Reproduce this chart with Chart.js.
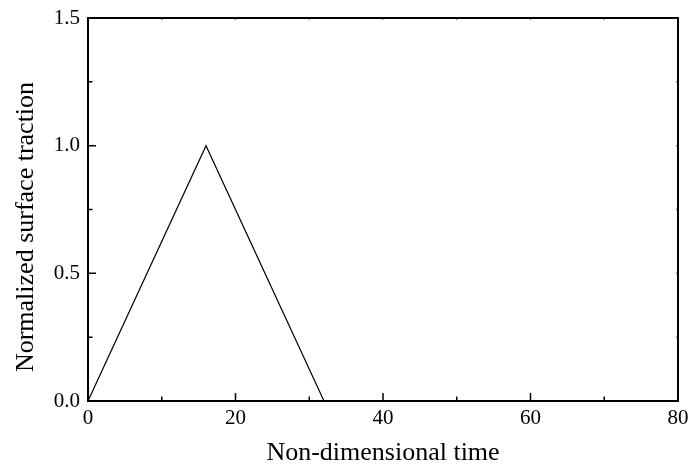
<!DOCTYPE html>
<html>
<head>
<meta charset="utf-8">
<script src="https://cdn.jsdelivr.net/npm/chart.js@4.4.0/dist/chart.umd.min.js"></script>
<style>
    html, body { margin: 0; padding: 0; background: #fff; }
    #wrap { width: 693px; height: 475px; position: relative; }
</style>
</head>
<body>
<div id="wrap"><canvas id="chart"></canvas></div>
<script>
    // traction pulse: rises to peak, falls back, then stays at zero
    var timeValues = [0, 16, 32, 80];
    var tractionValues = [0, 1, 0, 0];
    var xTicks = [0, 20, 40, 60, 80];
    var yTicks = [0.0, 0.5, 1.0, 1.5];
    var yTitle = 'Normalized surface traction';

    var FONT = "'Liberation Serif', 'Times New Roman', serif";

    function isMajor(list, v) {
        return list.some(function (t) { return Math.abs(t - v) < 1e-9; });
    }

    // inward ticks + frame, like the origin style plot
    var frameTicks = {
        id: 'frameTicks',
        afterDraw: function (chart) {
            var ctx = chart.ctx;
            var a = chart.chartArea;
            var xs = chart.scales.x, ys = chart.scales.y;
            ctx.save();
            ctx.strokeStyle = '#000';
            ctx.lineWidth = 1.5;
            ctx.beginPath();
            xs.ticks.forEach(function (t) {
                var px = xs.getPixelForValue(t.value);
                var len = isMajor(xTicks, t.value) ? 8 : 4.5;
                ctx.moveTo(px, a.bottom);
                ctx.lineTo(px, a.bottom - len);
                ctx.moveTo(px, a.top);
                ctx.lineTo(px, a.top + 1.5);
            });
            ys.ticks.forEach(function (t) {
                var py = ys.getPixelForValue(t.value);
                var len = isMajor(yTicks, t.value) ? 8 : 4.5;
                ctx.moveTo(a.left, py);
                ctx.lineTo(a.left + len, py);
                ctx.moveTo(a.right, py);
                ctx.lineTo(a.right - 1.5, py);
            });
            ctx.stroke();
            ctx.lineWidth = 2;
            ctx.strokeRect(a.left, a.top, a.right - a.left, a.bottom - a.top);

            // y title sits a bit below the axis centre in the original
            ctx.fillStyle = '#000';
            ctx.font = '26px ' + FONT;
            ctx.textAlign = 'center';
            ctx.textBaseline = 'alphabetic';
            ctx.translate(33, 227);
            ctx.rotate(-Math.PI / 2);
            ctx.fillText(yTitle, 0, 0);
            ctx.restore();
        }
    };

    new Chart(document.getElementById('chart').getContext('2d'), {
        type: 'scatter',
        data: {
            datasets: [{
                data: timeValues.map(function (t, i) { return { x: t, y: tractionValues[i] }; }),
                showLine: true,
                borderColor: '#000',
                borderWidth: 1.2,
                pointRadius: 0,
                tension: 0
            }]
        },
        options: {
            responsive: true,
            maintainAspectRatio: false,
            animation: false,
            layout: { padding: { top: 18, right: 15, left: 0, bottom: 0 } },
            plugins: { legend: { display: false }, tooltip: { enabled: false } },
            scales: {
                x: {
                    type: 'linear',
                    min: 0,
                    max: 80,
                    afterFit: function (s) {
                        s.height = 74;
                        s.paddingLeft = 0;
                        s.paddingRight = 0;
                    },
                    grid: { display: false, drawTicks: false },
                    border: { display: false },
                    ticks: {
                        stepSize: 10,
                        padding: 5,
                        maxRotation: 0,
                        color: '#000',
                        font: { family: FONT, size: 21 },
                        callback: function (v) { return isMajor(xTicks, v) ? String(v) : ''; }
                    },
                    title: {
                        display: true,
                        text: 'Non-dimensional time',
                        color: '#000',
                        font: { family: FONT, size: 26 },
                        padding: { top: 0, bottom: 6 }
                    }
                },
                y: {
                    type: 'linear',
                    min: 0,
                    max: 1.5,
                    afterFit: function (s) {
                        s.width = 88;
                        s.paddingTop = 0;
                        s.paddingBottom = 0;
                    },
                    grid: { display: false, drawTicks: false },
                    border: { display: false },
                    ticks: {
                        stepSize: 0.25,
                        padding: 8,
                        color: '#000',
                        font: { family: FONT, size: 21 },
                        callback: function (v) { return isMajor(yTicks, v) ? v.toFixed(1) : ''; }
                    }
                }
            }
        },
        plugins: [frameTicks]
    });
</script>
</body>
</html>
